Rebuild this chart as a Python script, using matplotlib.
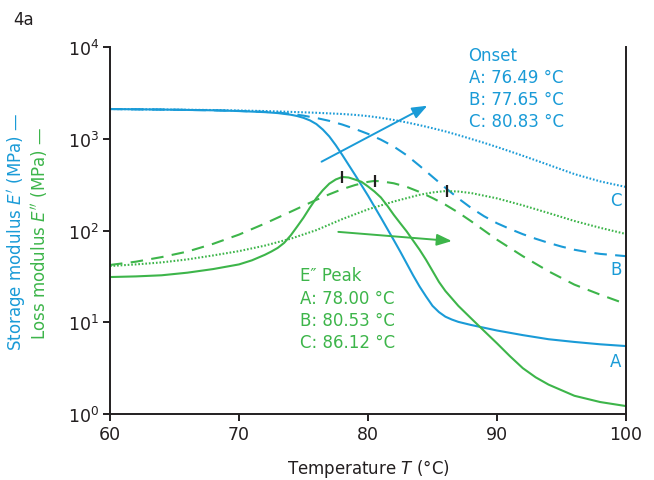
import matplotlib
matplotlib.use("Agg")
import matplotlib.pyplot as plt
from matplotlib.ticker import NullLocator, FixedLocator, LogFormatterMathtext

# Storage modulus E' (MPa) versus temperature (°C)
temp_storage_a = [60, 64, 68, 70, 72, 73, 74, 74.5, 75, 75.5, 76, 76.5, 77, 77.5, 78, 79,
                  80, 81, 82, 82.5, 83, 83.5, 84, 84.5, 85, 85.5, 86, 86.5, 87, 88,
                  89, 90, 92, 94, 96, 98, 100]
storage_a = [2109, 2080, 2042, 2004, 1950, 1905, 1828, 1770, 1690, 1585, 1445, 1259,
             1059, 851, 668, 403, 240, 138, 78.5, 58.9, 43.7, 32.4, 24.5, 19.1,
             15.1, 12.9, 11.5, 10.7, 10.1, 9.33, 8.71, 8.13, 7.24, 6.53, 6.10,
             5.75, 5.50]

temp_storage_b = [60, 64, 68, 70, 72, 73, 74, 75, 76, 77, 78, 79, 80, 81, 82, 83, 84,
                  85, 86, 87, 88, 89, 90, 91, 92, 93, 94, 95, 96, 97, 98, 100]
storage_b = [2109, 2080, 2042, 2009, 1963, 1928, 1871, 1786, 1683, 1567, 1429, 1279,
             1130, 977, 822, 661, 507, 385, 292, 224, 176, 143, 120, 104, 91.2,
             81.3, 73.3, 66.8, 61.7, 58.2, 55.6, 52.5]

temp_storage_c = [60, 64, 68, 70, 72, 74, 76, 78, 79, 80, 81, 82, 83, 84, 85, 86, 87,
                  88, 89, 90, 92, 94, 96, 98, 100]
storage_c = [2109, 2084, 2056, 2032, 2004, 1963, 1919, 1862, 1820, 1766, 1690, 1603,
             1507, 1406, 1303, 1202, 1096, 995, 902, 813, 653, 519, 412, 343, 298]

# Loss modulus E'' (MPa) versus temperature (°C)
temp_loss_a = [60, 62, 64, 66, 68, 70, 71, 72, 72.5, 73, 73.5, 74, 74.5, 75, 75.5, 76,
               76.5, 77, 77.5, 78, 78.5, 79, 79.5, 80, 80.5, 81, 81.5, 82, 82.5, 83,
               83.5, 84, 84.5, 85, 85.5, 86, 86.5, 87, 88, 89, 90, 91, 92, 93, 94,
               96, 98, 100]
loss_a = [31.1, 31.6, 32.5, 34.7, 38.0, 42.7, 47.3, 54.3, 58.9, 64.6, 73.3, 88.1,
          110, 138, 178, 226, 275, 324, 360, 383, 378, 359, 339, 302, 266, 229,
          186, 148, 120, 97.7, 77.6, 61.7, 47.9, 36.3, 27.5, 21.9, 18.2, 15.1,
          11.0, 8.04, 5.89, 4.27, 3.16, 2.51, 2.09, 1.58, 1.35, 1.22]

temp_loss_b = [60, 62, 64, 66, 68, 70, 72, 74, 76, 77, 78, 79, 80, 80.5, 81, 82, 83,
               84, 85, 86, 87, 88, 89, 90, 92, 94, 96, 98, 100]
loss_b = [42.1, 45.7, 51.3, 58.9, 71.6, 90.2, 119, 160, 216, 248, 282, 313, 339, 347,
          344, 327, 299, 263, 226, 191, 157, 126, 100, 79.4, 52.5, 35.9, 25.7,
          20.0, 15.8]

temp_loss_c = [60, 62, 64, 66, 68, 70, 72, 74, 76, 78, 80, 82, 84, 85, 86, 87, 88, 90,
               92, 94, 96, 98, 100]
loss_c = [41.0, 42.7, 44.9, 48.4, 53.5, 59.6, 68.4, 81.3, 101, 133, 170, 207, 245,
          260, 269, 266, 256, 224, 188, 155, 127, 107, 91.6]

# E'' peak positions
peak_temps = [78.00, 80.53, 86.12]
peak_values = [383, 347, 269]

onset_lines = ["Onset", "A: 76.49 °C", "B: 77.65 °C", "C: 80.83 °C"]
peak_lines = ["E″ Peak", "A: 78.00 °C", "B: 80.53 °C", "C: 86.12 °C"]
curve_labels = ["A", "B", "C"]
curve_label_values = [3.8, 38, 214]

x_ticks = [60, 70, 80, 90, 100]
y_ticks = [1, 10, 100, 1000, 10000]

BLUE = "#1a9bd7"
GREEN = "#3db54a"
DARK = "#231f20"

plt.rcParams["font.family"] = ["DejaVu Sans"]

fig = plt.figure(figsize=(6.54, 4.81), dpi=100)
ax = fig.add_axes([110 / 654, 1 - 415 / 481, 516 / 654, 367 / 481])

lw = 1.5
dash = (0, (6, 4))
dot = (0, (0.8, 0.9))

ax.plot(temp_storage_c, storage_c, color=BLUE, lw=lw, ls=dot)
ax.plot(temp_storage_b, storage_b, color=BLUE, lw=lw, ls=dash)
ax.plot(temp_storage_a, storage_a, color=BLUE, lw=lw, ls="-")
ax.plot(temp_loss_c, loss_c, color=GREEN, lw=lw, ls=dot)
ax.plot(temp_loss_b, loss_b, color=GREEN, lw=lw, ls=dash)
ax.plot(temp_loss_a, loss_a, color=GREEN, lw=lw, ls="-")

ax.plot(peak_temps, peak_values, ls="none", marker="|", ms=9, mew=1.6,
        color=DARK, zorder=5)

ax.set_yscale("log")
ax.set_xlim(60, 100)
ax.set_ylim(1, 10000)
ax.xaxis.set_major_locator(FixedLocator(x_ticks))
ax.yaxis.set_major_locator(FixedLocator(y_ticks))
ax.yaxis.set_major_formatter(LogFormatterMathtext())
ax.yaxis.set_minor_locator(NullLocator())
ax.xaxis.set_minor_locator(NullLocator())

for side in ["left", "bottom", "right"]:
    ax.spines[side].set_color(DARK)
    ax.spines[side].set_linewidth(1.4)
ax.spines["top"].set_visible(False)
ax.tick_params(axis="both", direction="out", length=5, width=1.4,
               color=DARK, labelcolor=DARK, labelsize=12.5, pad=3)
ax.tick_params(axis="y", right=False)

ax.set_xlabel("Temperature $T$ (°C)", fontsize=12, color=DARK, labelpad=10)

# Arrows indicating the shift from A to C
ax.annotate("", xy=(84.6, 10 ** 3.36), xytext=(76.4, 10 ** 2.75),
            arrowprops=dict(arrowstyle="-|>,head_length=0.9,head_width=0.35",
                            color=BLUE, lw=1.4, shrinkA=0, shrinkB=0))
ax.annotate("", xy=(86.5, 10 ** 1.885), xytext=(77.7, 10 ** 1.985),
            arrowprops=dict(arrowstyle="-|>,head_length=0.9,head_width=0.35",
                            color=GREEN, lw=1.4, shrinkA=0, shrinkB=0))

for lab, val in zip(curve_labels, curve_label_values):
    ax.text(99.2, val, lab, color=BLUE, fontsize=12, ha="center", va="center")

ax.text(0.695, 1.004, "\n".join(onset_lines), transform=ax.transAxes,
        color=BLUE, fontsize=12, ha="left", va="top", linespacing=1.3)
ax.text(0.368, 0.402, "\n".join(peak_lines), transform=ax.transAxes,
        color=GREEN, fontsize=12, ha="left", va="top", linespacing=1.3)

fig.text(17 / 654, 1 - 232 / 481, "Storage modulus $E'$ (MPa) —", rotation=90,
         color=BLUE, fontsize=12, ha="center", va="center")
fig.text(40 / 654, 1 - 233 / 481, "Loss modulus $E''$ (MPa) —", rotation=90,
         color=GREEN, fontsize=12, ha="center", va="center")
fig.text(13 / 654, 1 - 25 / 481, "4a", color=DARK, fontsize=12, ha="left",
         va="baseline")

fig.savefig("out.png", dpi=100)
